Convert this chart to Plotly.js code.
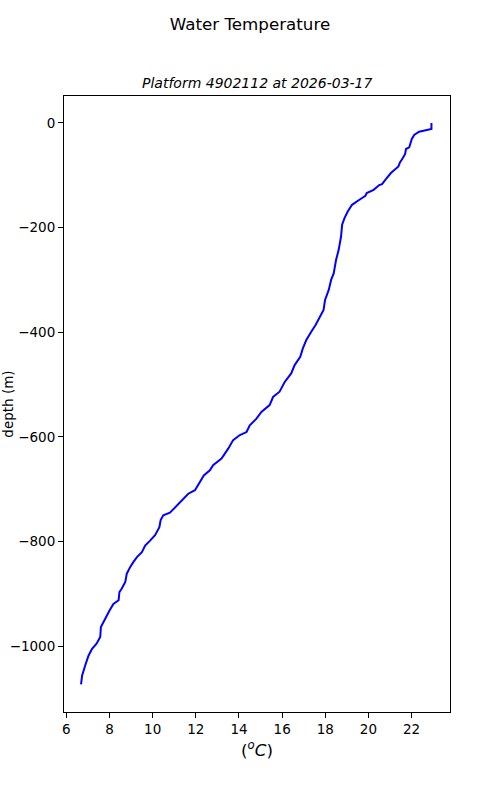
<!DOCTYPE html>
<html>
<head>
<meta charset="utf-8">
<script src="https://cdn.plot.ly/plotly-3.0.1.min.js"></script>
<style>html,body{margin:0;padding:0;background:#fff;}#chart{width:500px;height:800px;}</style>
</head>
<body>
<div id="chart"></div>
<script>
const temperature = [22.92,22.92,22.35,22.12,22.01,21.97,21.89,21.74,21.70,21.58,21.46,21.39,21.20,21.04,20.81,20.63,20.50,
  20.24,19.92,19.86,19.58,19.24,19.04,18.89,18.78,18.73,18.62,18.50,18.39,18.27,18.16,17.99,17.92,17.73,17.55,17.35,17.12,16.96,16.84,16.58,16.42,16.12,15.96,
  15.88,15.58,15.42,15.04,14.81,14.50,14.35,14.04,13.73,13.50,13.19,12.80,12.65,12.37,12.19,11.96,11.65,11.27,
  10.96,10.80,10.49,10.37,10.31,10.11,9.88,9.65,9.50,9.27,9.11,8.96,8.80,
  8.73,8.57,8.46,8.42,8.18,8.00,7.88,7.72,7.60,7.57,7.39,7.19,7.03,6.92,6.83,6.73,6.68];
const depth = [0,-11.5,-16.6,-23.0,-30.6,-37.1,-46.7,-49.8,-59.3,-67.8,-75.4,-83.1,-89.4,-95.7,-107.2,-116.8,-118.7,
  -127.7,-134.0,-139.1,-146.8,-156.4,-169.2,-181.8,-194.6,-217.0,-242.5,-261.6,-287.7,-300.0,-319.1,-338.3,-357.3,-373.4,-386.2,-399.0,-414.9,-430.8,-446.9,-462.8,-478.7,-495.0,-507.6,
  -513.7,-523.8,-539.2,-552.5,-565.2,-577.8,-590.8,-596.6,-606.2,-622.6,-641.7,-654.0,-663.8,-673.9,-686.5,-702.0,-708.7,-724.8,
  -739.3,-745.1,-750.0,-758.9,-772.6,-788.0,-798.3,-807.9,-820.5,-830.0,-839.0,-848.6,-861.6,
  -877.3,-890.0,-896.6,-912.3,-919.3,-932.0,-941.2,-954.4,-963.6,-982.7,-995.8,-1005,-1018,-1031,-1044,-1056,-1073];
const xTicks = [6,8,10,12,14,16,18,20,22];
const yTicks = [0,-200,-400,-600,-800,-1000];
const figTitle = "Water Temperature";
const subTitle = "Platform 4902112 at 2026-03-17";

const font = "DejaVu Sans, sans-serif";
Plotly.newPlot("chart", [{
  x: temperature, y: depth, type: "scatter", mode: "lines",
  line: {color: "#0000ff", width: 2}, hoverinfo: "skip"
}], {
  width: 500, height: 800,
  margin: {l: 64, r: 50, t: 96, b: 88},
  paper_bgcolor: "#fff", plot_bgcolor: "#fff",
  font: {family: font, size: 13.5, color: "#000"},
  showlegend: false,
  title: {text: figTitle, x: 0.5, xref: "container", y: 1 - 24/800, yref: "container", yanchor: "middle", font: {family: font, size: 16.7, color: "#000"}},
  xaxis: {
    range: [5.89, 23.78], tickvals: xTicks, ticktext: xTicks.map(String),
    ticks: "outside", ticklen: 5, tickcolor: "#000", tickwidth: 1,
    showline: true, mirror: true, linecolor: "#000", linewidth: 1,
    showgrid: false, zeroline: false,
    tickfont: {family: font, size: 13.5, color: "#000"},
    title: {text: "(<i><sup>o</sup>C</i>)", standoff: 8, font: {family: font, size: 16.7, color: "#000"}}
  },
  yaxis: {
    range: [-1126, 51.6], tickvals: yTicks, ticktext: yTicks.map(v => v < 0 ? "\u2212" + Math.abs(v) : String(v)),
    ticks: "outside", ticklen: 5, tickcolor: "#000", tickwidth: 1,
    showline: true, mirror: true, linecolor: "#000", linewidth: 1,
    showgrid: false, zeroline: false,
    tickfont: {family: font, size: 13.5, color: "#000"},
    title: {text: "depth (m)", standoff: 4, font: {family: font, size: 13.5, color: "#000"}}
  },
  annotations: [{
    text: "<i>" + subTitle + "</i>", xref: "paper", yref: "paper", x: 0.5, y: 1,
    xanchor: "center", yanchor: "bottom", yshift: 3, showarrow: false,
    font: {family: font, size: 14, color: "#000"}
  }]
}, {displayModeBar: false, staticPlot: true});
</script>
</body>
</html>
